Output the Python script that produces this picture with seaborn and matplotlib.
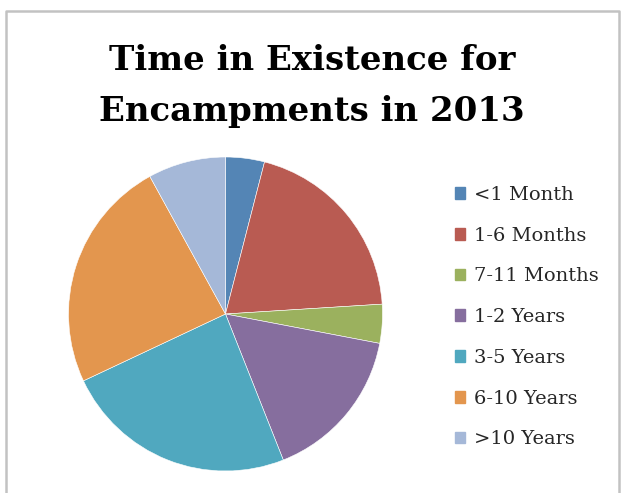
import matplotlib
matplotlib.use("Agg")
import matplotlib.pyplot as plt
import matplotlib.patches as mpatches
import seaborn as sns

# Data (percent of encampments)
categories = ["<1 Month", "1-6 Months", "7-11 Months", "1-2 Years",
              "3-5 Years", "6-10 Years", ">10 Years"]
shares = [4, 20, 4, 16, 24, 24, 8]
colors = ["#5485b5", "#b95b52", "#9bb15e", "#866e9e",
          "#50a8bf", "#e3964e", "#a5b8d8"]
title_lines = ["Time in Existence for", "Encampments in 2013"]

sns.set_theme(style="white")
plt.rcParams['font.family'] = ['DejaVu Serif']

fig = plt.figure(figsize=(6.24, 4.93), dpi=100)

# Pie axes: centre ~ (226, 314) px, radius ~157 px
ax = fig.add_axes([68.5 / 624, 22 / 493, 314 / 624, 314 / 493])
wedges, _ = ax.pie(shares, colors=sns.color_palette(colors), startangle=90,
                   counterclock=False, radius=1,
                   wedgeprops=dict(edgecolor="white", linewidth=0.4))
ax.set_xlim(-1, 1)
ax.set_ylim(-1, 1)
ax.set_aspect("equal")
ax.axis("off")

# Title, two centred lines
for line, base in zip(title_lines, [70, 121]):
    fig.text(0.5, 1 - base / 493, line, ha="center", va="baseline",
             fontsize=24.5, fontweight="bold", color="black")

# Legend
handles = [mpatches.Patch(color=c, label=l) for c, l in zip(colors, categories)]
fig.legend(handles=handles, loc="upper left",
           bbox_to_anchor=(447 / 624, 1 - 178 / 493),
           frameon=False, fontsize=14, handlelength=0.55, handleheight=0.55,
           handletextpad=0.45, labelspacing=1.17, borderaxespad=0)

# Chart frame (open at the bottom, as in the screenshot)
frame = plt.Line2D([6 / 624, 6 / 624, 619 / 624, 619 / 624],
                   [0, 1 - 11 / 493, 1 - 11 / 493, 0],
                   transform=fig.transFigure, color="#c2c2c2", linewidth=1.8)
fig.add_artist(frame)

fig.savefig("out.png", dpi=100)
